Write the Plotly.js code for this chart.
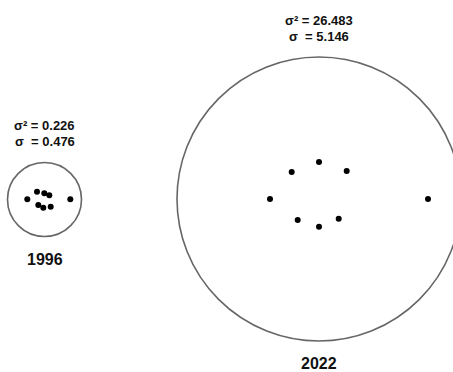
<!DOCTYPE html>
<html>
<head>
<meta charset="utf-8">
<script src="https://cdn.plot.ly/plotly-3.0.1.min.js"></script>
<style>html,body{margin:0;padding:0;background:#fff;}#chart{width:453px;height:372px;}</style>
</head>
<body>
<div id="chart"></div>
<script>
// Group labels and statistics
var years = ["1996", "2022"];
var variances = ["0.226", "26.483"];
var sigmas = ["0.476", "5.146"];

// Dot positions (chart units)
var x1996 = [27.3, 37.0, 44.3, 49.3, 38.3, 43.3, 50.7, 70.3];
var y1996 = [199.3, 191.7, 193.3, 195.3, 205.0, 207.7, 206.7, 199.3];
var x2022 = [270.0, 291.7, 319.0, 346.7, 297.7, 319.0, 338.7, 428.0];
var y2022 = [199.0, 172.0, 162.0, 171.0, 220.0, 226.7, 218.7, 199.0];

// Circle geometry per group
var cx = [44.5, 319];
var cy = [199.5, 199];
var cr = [37, 142];

var dotStyle = {color: "#000", size: 6};
var traces = [
  {x: x1996, y: y1996, mode: "markers", type: "scatter", marker: dotStyle, hoverinfo: "skip"},
  {x: x2022, y: y2022, mode: "markers", type: "scatter", marker: dotStyle, hoverinfo: "skip"}
];

var shapes = [];
var annotations = [];
var F = "Liberation Sans, Arial, sans-serif";
for (var i = 0; i < years.length; i++) {
  shapes.push({type: "circle", xref: "x", yref: "y",
    x0: cx[i] - cr[i], x1: cx[i] + cr[i], y0: cy[i] - cr[i], y1: cy[i] + cr[i],
    line: {color: "#666", width: 1.6}, layer: "below"});
  var topY = cy[i] - cr[i];
  annotations.push({x: cx[i], y: topY - 37, xref: "x", yref: "y", showarrow: false,
    text: "<b>σ² = " + variances[i] + "</b>", font: {family: F, size: 13, color: "#111"},
    xanchor: "center", yanchor: "middle", borderpad: 0});
  annotations.push({x: cx[i], y: topY - 21, xref: "x", yref: "y", showarrow: false,
    text: "<b>σ \u00a0= " + sigmas[i] + "</b>", font: {family: F, size: 13, color: "#111"},
    xanchor: "center", yanchor: "middle", borderpad: 0});
  annotations.push({x: cx[i], y: cy[i] + cr[i] + 22.5, xref: "x", yref: "y", showarrow: false,
    text: "<b>" + years[i] + "</b>", font: {family: F, size: 16, color: "#111"},
    xanchor: "center", yanchor: "middle", borderpad: 0});
}

var layout = {
  width: 453, height: 372,
  margin: {l: 0, r: 0, t: 0, b: 0},
  paper_bgcolor: "#fff", plot_bgcolor: "#fff",
  showlegend: false,
  xaxis: {range: [0, 453], visible: false, fixedrange: true},
  yaxis: {range: [372, 0], visible: false, fixedrange: true},
  shapes: shapes,
  annotations: annotations
};

Plotly.newPlot("chart", traces, layout, {staticPlot: true, displayModeBar: false});
</script>
</body>
</html>
